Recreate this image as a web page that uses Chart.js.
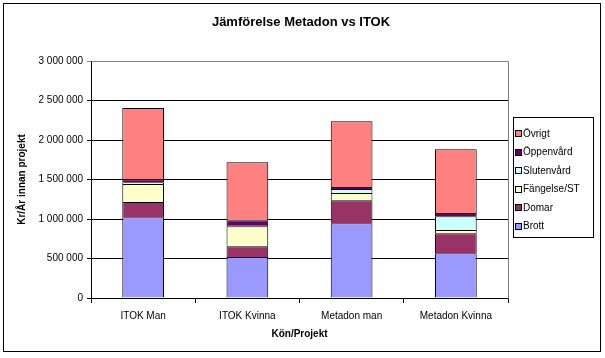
<!DOCTYPE html>
<html><head><meta charset="utf-8">
<script src="https://cdn.jsdelivr.net/npm/chart.js@4.4.1/dist/chart.umd.min.js"></script>
<style>html,body{margin:0;padding:0;background:#fff}</style>
</head><body>
<canvas id="c" width="605" height="358"></canvas>
<script>
const categories = ['ITOK Man', 'ITOK Kvinna', 'Metadon man', 'Metadon Kvinna'];
const brott      = [1021000, 519000, 945000, 566000];
const domar      = [195000, 135000, 291000, 253000];
const fangelse   = [228000, 253000, 93000, 42000];
const slutenvard = [22000, 17000, 51000, 173000];
const oppenvard  = [37000, 59000, 25000, 42000];
const ovrigt     = [903000, 734000, 831000, 806000];
const yTickValues = [0, 500000, 1000000, 1500000, 2000000, 2500000, 3000000];
const chartTitle = 'Jämförelse Metadon vs ITOK';

const FONT = '"Liberation Sans", Arial, sans-serif';
Chart.defaults.font.family = FONT;
Chart.defaults.color = '#000';

function fmt(v) { return String(v).replace(/\B(?=(\d{3})+(?!\d))/g, ' '); }

const decor = {
  id: 'decor',
  beforeDraw(chart) {
    const ctx = chart.ctx;
    ctx.save();
    ctx.fillStyle = '#fff';
    ctx.fillRect(0, 0, chart.width, chart.height);
    ctx.restore();
  },
  afterDraw(chart) {
    const ctx = chart.ctx;
    const a = chart.chartArea;
    ctx.save();
    // plot area border (top/right grey)
    ctx.strokeStyle = '#808080';
    ctx.lineWidth = 1;
    ctx.beginPath();
    ctx.moveTo(Math.round(a.left) + 0.5, Math.round(a.top) + 0.5);
    ctx.lineTo(Math.round(a.right) + 0.5, Math.round(a.top) + 0.5);
    ctx.lineTo(Math.round(a.right) + 0.5, Math.round(a.bottom) + 0.5);
    ctx.stroke();
    // outer border
    ctx.strokeStyle = '#000';
    ctx.strokeRect(3.5, 3.5, 597, 348);
    // title
    ctx.fillStyle = '#000';
    ctx.font = 'bold 13px ' + FONT;
    ctx.textAlign = 'center';
    ctx.textBaseline = 'middle';
    ctx.fillText(chartTitle, 301, 22);
    // legend
    const lx = 513, ly = 117, lw = 80, lh = 120;
    ctx.strokeRect(lx + 0.5, ly + 0.5, lw, lh);
    ctx.font = '10px ' + FONT;
    ctx.textBaseline = 'middle';
    ctx.textAlign = 'left';
    const ds = chart.data.datasets.slice().reverse();
    ds.forEach((d, i) => {
      const cy = ly + 17 + i * 18.5;
      ctx.fillStyle = d.backgroundColor;
      ctx.fillRect(516, Math.round(cy) - 3, 6, 6);
      ctx.strokeStyle = '#000';
      ctx.strokeRect(515.5, Math.round(cy) - 3.5, 6, 6);
      ctx.fillStyle = '#000';
      ctx.fillText(d.label, 523, cy);
    });
    ctx.restore();
  }
};

const mk = (label, data, color) => ({
  label, data, backgroundColor: color, borderColor: '#000', borderWidth: 1,
  borderSkipped: 'start', barPercentage: 0.4, categoryPercentage: 1.0
});

new Chart(document.getElementById('c'), {
  type: 'bar',
  data: {
    labels: categories,
    datasets: [
      mk('Brott', brott, '#9999FF'),
      mk('Domar', domar, '#993366'),
      mk('Fängelse/ST', fangelse, '#FFFFCC'),
      mk('Slutenvård', slutenvard, '#CCFFFF'),
      mk('Öppenvård', oppenvard, '#660066'),
      mk('Övrigt', ovrigt, '#FF8080')
    ]
  },
  options: {
    responsive: false,
    animation: false,
    devicePixelRatio: 1,
    layout: { padding: { left: 4, top: 61, right: 97, bottom: 4 } },
    plugins: {
      legend: { display: false },
      tooltip: { enabled: false },
      title: { display: false }
    },
    scales: {
      x: {
        stacked: true,
        ticks: { color: '#000', font: { size: 10 }, padding: 7, maxRotation: 0 },
        grid: { offset: true, drawOnChartArea: false, drawTicks: true, tickLength: 5, color: '#000' },
        border: { color: '#000' },
        title: { display: true, text: 'Kön/Projekt', color: '#000', font: { size: 10, weight: 'bold' }, padding: { top: 4, bottom: 14 } },
        afterFit(s) { s.height = 56; }
      },
      y: {
        stacked: true, min: 0, max: 3000000,
        afterBuildTicks(s) { s.ticks = yTickValues.map(v => ({ value: v })); },
        ticks: { color: '#000', font: { size: 10 }, padding: 4, callback: v => fmt(v) },
        grid: { color: c => (c.tick && c.tick.value === 3000000) ? '#808080' : '#000', tickLength: 4, drawTicks: true },
        border: { color: '#000' },
        title: { display: true, text: 'Kr/År innan projekt', color: '#000', font: { size: 10, weight: 'bold' }, padding: { top: 12, bottom: 0 } },
        afterFit(s) { s.width = 87; }
      }
    }
  },
  plugins: [decor]
});
</script>
</body></html>
